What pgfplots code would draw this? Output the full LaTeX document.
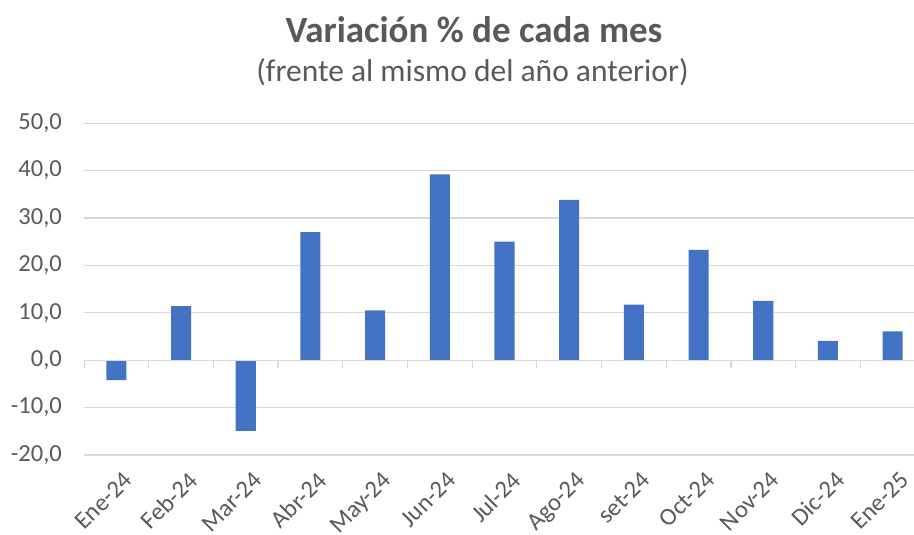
\documentclass[border=0pt]{standalone}
\usepackage{pgfplots}
\pgfplotsset{compat=1.18}
\usepackage{fontspec}
\setmainfont{Carlito}
\definecolor{barblue}{HTML}{4472C4}
\definecolor{txtgray}{HTML}{595959}
\definecolor{gridgray}{HTML}{D9D9D9}
\begin{document}
\begin{tikzpicture}
\useasboundingbox (-84bp,-80bp) rectangle (830bp,455bp);
\begin{axis}[
  scale only axis, width=830bp, height=331.8bp,
  xmin=-0.5, xmax=12.33, ymin=-20, ymax=50,
  ytick={-20,-10,...,50},
  xtick={0,...,12},
  xticklabels={Ene-24,Feb-24,Mar-24,Abr-24,May-24,Jun-24,Jul-24,Ago-24,set-24,Oct-24,Nov-24,Dic-24,Ene-25},
  axis line style={draw=none},
  major tick length=0pt,
  ymajorgrids, grid style={gridgray, line width=1.3bp},
  tick label style={font=\fontsize{24.5bp}{28bp}\selectfont, text=txtgray},
  yticklabel style={anchor=east, inner sep=0pt, xshift=-22bp,
    /pgf/number format/.cd, fixed, fixed zerofill, precision=1, use comma, assume math mode=true},
  xticklabel style={xshift=6bp, yshift=-15bp, rotate=45, anchor=north east, inner sep=0pt},
]
\addplot[ybar, bar width=0.31, fill=barblue, draw=none] coordinates {
  (0,-4.2) (1,11.4) (2,-14.9) (3,27.0) (4,10.5) (5,39.2) (6,25.0)
  (7,33.8) (8,11.7) (9,23.3) (10,12.5) (11,4.1) (12,6.1)};
\draw[gridgray, line width=1.3bp] (axis cs:-0.5,0) -- (axis cs:12.33,0);
\pgfplotsinvokeforeach{-0.5,0.5,...,11.5}{
  \draw[gridgray, line width=1.3bp] (axis cs:#1,0) -- ([yshift=-8bp]axis cs:#1,0);
}
\end{axis}
\node[font=\fontsize{37bp}{42bp}\selectfont\bfseries, text=txtgray] at (390bp,425bp) {Variación \% de cada mes};
\node[font=\fontsize{31.5bp}{36bp}\selectfont, text=txtgray] at (388.5bp,383bp) {(frente al mismo del año anterior)};
\end{tikzpicture}
\end{document}
